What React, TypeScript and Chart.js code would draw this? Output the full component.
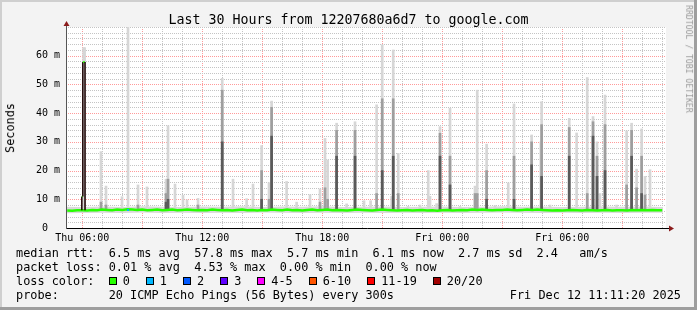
import React, { useEffect, useRef } from 'react';
import { Chart, registerables } from 'chart.js';

Chart.register(...registerables);

// ---------- axes ----------
const xMinHour = 5.189; // Thu 05:11:20
const xMaxHour = 35.189; // Fri 11:11:20
const xGridHours = [6, 7, 8, 9, 10, 11, 12, 13, 14, 15, 16, 17, 18, 19, 20, 21, 22, 23, 24, 25, 26, 27, 28, 29, 30, 31, 32, 33, 34, 35];
const xMajorHours = [6, 9, 12, 15, 18, 21, 24, 27, 30, 33];
const xLabelHours = [6, 12, 18, 24, 30];
const xTickLabels = ['Thu 06:00', 'Thu 12:00', 'Thu 18:00', 'Fri 00:00', 'Fri 06:00'];
const yMaxMs = 70;
const yGridMs = [2, 4, 6, 8, 10, 12, 14, 16, 18, 20, 22, 24, 26, 28, 30, 32, 34, 36, 38, 40, 42, 44, 46, 48, 50, 52, 54, 56, 58, 60, 62, 64, 66, 68, 70];
const yMajorMs = [10, 20, 30, 40, 50, 60];
const yLabelMs = [0, 10, 20, 30, 40, 50, 60];
const yTickLabels = ['0  ', '10 m', '20 m', '30 m', '40 m', '50 m', '60 m'];

// ---------- baseline smoke band (hourly) ----------
const bandHours = [5.19, 6, 7, 8, 9, 10, 11, 12, 13, 14, 15, 16, 17, 18, 19, 20, 21, 22, 23, 24, 25, 26, 27, 28, 29, 30, 31, 32, 33, 34, 35.04];
const bandLowMs = [5.1, 5.2, 5.3, 5.2, 5.4, 5.2, 5.3, 5.2, 5.3, 5.2, 5.4, 5.3, 5.2, 5.3, 5.2, 5.3, 5.2, 5.3, 5.2, 5.3, 5.2, 5.3, 5.4, 5.3, 5.2, 5.3, 5.2, 5.3, 5.2, 5.3, 5.3];
const bandHighMs = [7.4, 7.3, 7.5, 7.3, 7.6, 7.4, 7.3, 7.5, 7.4, 7.6, 7.3, 7.5, 7.4, 7.6, 7.3, 7.4, 7.5, 7.3, 7.4, 7.5, 7.3, 7.4, 7.6, 7.4, 7.5, 7.3, 7.4, 7.5, 7.4, 7.5, 7.3];

// ---------- median rtt (every 15 min from 05:15) ----------
const medianStartHour = 5.25;
const medianStepHour = 0.25;
const medianMs = [
  6.1, 6.0, 6.2,
  6.2, 6.1, 6.3, 6.2,
  6.4, 6.3, 6.2, 6.4,
  6.3, 6.5, 6.4, 6.3,
  6.4, 6.2, 6.3, 6.4,
  6.2, 6.3, 6.4, 6.2,
  6.3, 6.4, 6.3, 6.2,
  6.3, 6.2, 6.4, 6.3,
  6.2, 6.3, 6.1, 6.3,
  6.4, 6.2, 6.3, 6.1,
  6.3, 6.2, 6.4, 6.3,
  6.2, 6.4, 6.2, 6.3,
  6.1, 6.3, 6.4, 6.2,
  6.3, 6.4, 6.2, 6.3,
  6.2, 6.1, 6.3, 6.4,
  6.3, 6.2, 6.1, 6.3,
  6.4, 6.3, 6.2, 6.1,
  6.2, 6.3, 6.1, 6.2,
  6.3, 6.1, 6.2, 6.0,
  6.2, 6.3, 6.1, 6.2,
  6.3, 6.2, 6.4, 6.3,
  6.4, 6.3, 6.2, 6.3,
  6.3, 6.4, 6.3, 6.2,
  6.3, 6.4, 6.3, 6.4,
  6.3, 6.2, 6.1, 6.2,
  6.1, 6.2, 6.3, 6.2,
  6.1, 6.3, 6.2, 6.1,
  6.2, 6.3, 6.1, 6.2,
  6.2, 6.1, 6.3, 6.2,
  6.3, 6.2, 6.3, 6.2,
  6.2,
];
const medianSpikeHours = [5.98, 5.98, 6.03, 6.03, 6.14, 6.14];
const medianSpikeMs = [6.2, 11.0, 11.0, 57.8, 57.8, 6.2];
const lossOneHours = [8.29];
const lossOneMs = [6.3];

// ---------- smoke spikes ----------
const smokeBaseMs = 6.3;
const spikeHours = [6.07, 6.12, 6.94, 7.19, 7.99, 8.29, 8.79, 9.24, 10.19, 10.29, 10.64, 11.04, 11.24, 11.79, 13.0, 13.54, 14.22, 14.54, 14.97, 15.34, 15.47, 16.22, 16.72, 17.39, 17.89, 18.14, 18.27, 18.72, 19.22, 19.64, 20.09, 20.42, 20.72, 21.0, 21.47, 21.55, 21.8, 22.29, 22.89, 23.3, 23.39, 23.72, 23.89, 24.39, 24.89, 25.64, 25.75, 26.22, 26.64, 27.3, 27.59, 28.47, 28.93, 28.97, 29.39, 30.35, 30.72, 31.25, 31.54, 31.74, 31.89, 32.14, 32.72, 33.22, 33.47, 33.72, 33.97, 34.14, 34.39];
const spikeTopMs = [62.8, 62.8, 26.6, 14.6, 10.9, 70.0, 15.0, 14.3, 17.0, 35.6, 15.3, 11.4, 9.8, 10.3, 52.1, 17.0, 10.2, 15.3, 28.7, 15.8, 44.2, 16.2, 9.0, 11.6, 13.6, 31.2, 23.7, 36.5, 8.4, 37.0, 9.5, 9.5, 42.9, 63.8, 11.0, 62.0, 26.0, 7.5, 8.0, 20.0, 11.0, 8.5, 35.3, 41.7, 7.5, 14.6, 48.0, 29.2, 7.8, 15.7, 43.2, 32.4, 30.0, 44.0, 8.0, 38.2, 33.1, 52.4, 38.8, 30.0, 12.0, 46.3, 8.0, 33.8, 36.5, 20.5, 34.5, 18.0, 20.3];
const spikeMidMs = [0, 0, 9, 8, 0, 0, 8, 0, 12, 17, 0, 0, 0, 8, 48, 0, 0, 0, 20, 10, 42, 0, 0, 0, 9, 14, 10, 34, 0, 34, 0, 0, 12, 45, 0, 45, 12, 0, 0, 0, 0, 0, 33, 25, 0, 12, 12, 20, 0, 0, 25, 30, 0, 36, 0, 35, 0, 12, 37, 25, 0, 36, 0, 15, 34, 14, 25, 11.5, 0];
const spikeDarkMs = [0, 0, 0, 0, 0, 0, 0, 0, 9, 10, 0, 0, 0, 0, 30, 0, 0, 0, 10, 0, 32, 0, 0, 0, 0, 0, 0, 25, 0, 25, 0, 0, 0, 20, 0, 25, 0, 0, 0, 0, 0, 0, 25, 15, 0, 0, 0, 10, 0, 0, 10, 22, 0, 18, 0, 25, 0, 0, 32, 18, 0, 20, 0, 0, 25, 0, 12, 0, 0];

// ---------- legend ----------
const lossLabels = ['0', '1', '2', '3', '4-5', '6-10', '11-19', '20/20'];
const lossColors = ['#26ff00', '#00b8ff', '#0059ff', '#5e00ff', '#ff00ff', '#ff5500', '#ff0000', '#a10000'];

const MONO = "'DejaVu Sans Mono', monospace";
const GREEN = '#26ff00';
const MAJOR_GRID = '#ff9a9a';
const MINOR_GRID = '#c4c4c4';

const floatBars = (tops: number[]) =>
  spikeHours
    .map((h, i) => ({ x: h, y: [smokeBaseMs, tops[i]] }))
    .filter((d) => d.y[1] > 0);

const framePlugin = {
  id: 'rrdFrame',
  beforeDraw(chart: any) {
    const { ctx, chartArea: a } = chart;
    ctx.save();
    ctx.fillStyle = '#ffffff';
    ctx.fillRect(a.left, a.top, a.right - a.left, a.bottom - a.top);
    ctx.restore();
  },
  beforeDatasetsDraw(chart: any) {
    const { ctx, chartArea: a, scales } = chart;
    const xs = scales.x;
    const ys = scales.y;
    ctx.save();
    ctx.lineWidth = 1;
    ctx.setLineDash([1, 1]);
    xGridHours.forEach((h) => {
      const px = Math.round(xs.getPixelForValue(h)) + 0.5;
      ctx.strokeStyle = xMajorHours.includes(h) ? MAJOR_GRID : MINOR_GRID;
      ctx.beginPath();
      ctx.moveTo(px, a.bottom);
      ctx.lineTo(px, a.top);
      ctx.stroke();
    });
    yGridMs.forEach((v) => {
      const py = Math.round(ys.getPixelForValue(v)) + 0.5;
      ctx.strokeStyle = yMajorMs.includes(v) ? MAJOR_GRID : MINOR_GRID;
      ctx.beginPath();
      ctx.moveTo(a.left, py);
      ctx.lineTo(a.right, py);
      ctx.stroke();
    });
    ctx.restore();
  },
  afterDatasetsDraw(chart: any) {
    const { ctx, chartArea: a } = chart;
    const x0 = Math.round(a.left) + 0.5;
    const y0 = Math.round(a.bottom) + 0.5;
    ctx.save();
    ctx.lineWidth = 1;
    ctx.strokeStyle = '#555555';
    ctx.beginPath();
    ctx.moveTo(x0, y0);
    ctx.lineTo(x0, a.top - 1);
    ctx.stroke();
    ctx.strokeStyle = '#000000';
    ctx.beginPath();
    ctx.moveTo(x0, y0);
    ctx.lineTo(a.right + 3, y0);
    ctx.stroke();
    ctx.fillStyle = '#8b1c1c';
    ctx.beginPath();
    ctx.moveTo(a.right + 3, y0 - 3);
    ctx.lineTo(a.right + 8, y0);
    ctx.lineTo(a.right + 3, y0 + 3);
    ctx.closePath();
    ctx.fill();
    ctx.beginPath();
    ctx.moveTo(x0 - 3, a.top - 1);
    ctx.lineTo(x0, a.top - 6);
    ctx.lineTo(x0 + 3, a.top - 1);
    ctx.closePath();
    ctx.fill();
    ctx.restore();
  },
};

function App() {
  const canvasRef = useRef<HTMLCanvasElement | null>(null);

  useEffect(() => {
    const canvas = canvasRef.current;
    if (!canvas) return;

    const medianData = medianMs.map((v, i) => ({ x: medianStartHour + i * medianStepHour, y: v }));
    const spikeData = medianSpikeHours.map((h, i) => ({ x: h, y: medianSpikeMs[i] }));

    const chart = new Chart(canvas, {
      type: 'bar',
      data: {
        datasets: [
          {
            type: 'line',
            data: bandHours.map((h, i) => ({ x: h, y: bandLowMs[i] })),
            borderWidth: 0,
            pointRadius: 0,
            fill: false,
            order: 10,
          } as any,
          {
            type: 'line',
            data: bandHours.map((h, i) => ({ x: h, y: bandHighMs[i] })),
            borderWidth: 0,
            pointRadius: 0,
            fill: '-1',
            backgroundColor: '#d9d9d9',
            order: 9,
          } as any,
          {
            data: floatBars(spikeTopMs),
            backgroundColor: '#d6d6d6',
            barThickness: 2,
            grouped: false,
            borderWidth: 0,
            order: 6,
          } as any,
          {
            data: floatBars(spikeMidMs),
            backgroundColor: '#9e9e9e',
            barThickness: 2,
            grouped: false,
            borderWidth: 0,
            order: 5,
          } as any,
          {
            data: floatBars(spikeDarkMs),
            backgroundColor: '#5a5a5a',
            barThickness: 2,
            grouped: false,
            borderWidth: 0,
            order: 4,
          } as any,
          {
            type: 'line',
            data: medianData,
            borderColor: GREEN,
            borderWidth: 2.5,
            pointRadius: 0,
            fill: false,
            tension: 0,
            order: 2,
          } as any,
          {
            type: 'line',
            data: spikeData,
            borderColor: GREEN,
            borderWidth: 1.5,
            pointRadius: 0,
            fill: false,
            segment: {
              borderColor: (c: any) => (c.p0.parsed.x === c.p1.parsed.x ? '#1a0000' : GREEN),
            },
            order: 1,
          } as any,
          {
            type: 'line',
            data: lossOneHours.map((h, i) => ({ x: h, y: lossOneMs[i] })),
            showLine: false,
            pointStyle: 'rect',
            pointRadius: 1.5,
            pointBorderWidth: 0,
            pointBackgroundColor: lossColors[1],
            order: 0,
          } as any,
        ],
      },
      options: {
        responsive: false,
        animation: false,
        devicePixelRatio: 1,
        events: [],
        layout: { padding: { left: 0, top: 27, right: 31, bottom: 0 } },
        plugins: {
          legend: { display: false },
          title: { display: false },
          tooltip: { enabled: false },
        },
        scales: {
          x: {
            type: 'linear',
            min: xMinHour,
            max: xMaxHour,
            offset: false,
            afterBuildTicks: (s: any) => {
              s.ticks = xLabelHours.map((v) => ({ value: v }));
            },
            afterFit: (s: any) => {
              s.height = 82;
            },
            ticks: {
              autoSkip: false,
              maxRotation: 0,
              minRotation: 0,
              padding: 4,
              color: '#000',
              font: { family: MONO, size: 10 },
              callback: (v: any) => {
                const i = xLabelHours.indexOf(Number(v));
                return i >= 0 ? xTickLabels[i] : '';
              },
            },
            grid: { display: false, offset: false, drawTicks: false },
            border: { display: false },
          },
          y: {
            type: 'linear',
            min: 0,
            max: yMaxMs,
            afterBuildTicks: (s: any) => {
              s.ticks = yLabelMs.map((v) => ({ value: v }));
            },
            afterFit: (s: any) => {
              s.width = 66;
            },
            ticks: {
              autoSkip: false,
              padding: 6,
              color: '#000',
              font: { family: MONO, size: 10 },
              callback: (v: any) => {
                const i = yLabelMs.indexOf(Number(v));
                return i >= 0 ? yTickLabels[i] : '';
              },
            },
            grid: { display: false, drawTicks: false },
            border: { display: false },
          },
        },
      } as any,
      plugins: [framePlugin],
    });

    return () => chart.destroy();
  }, []);

  const lineStyle = (top: number): React.CSSProperties => ({
    position: 'absolute',
    left: 16,
    top,
    fontFamily: MONO,
    fontSize: '11.85px',
    lineHeight: '11.85px',
    whiteSpace: 'pre',
    color: '#000',
  });

  return (
    <div
      style={{
        position: 'fixed',
        left: 0,
        top: 0,
        width: 697,
        height: 310,
        background: '#f3f3f3',
        overflow: 'hidden',
      }}
    >
      <canvas ref={canvasRef} width={697} height={310} style={{ position: 'absolute', left: 0, top: 0, width: 697, height: 310 }} />
      <div
        style={{
          position: 'absolute',
          left: 0,
          top: 12.75,
          width: 697,
          textAlign: 'center',
          fontFamily: MONO,
          fontSize: '13.3px',
          lineHeight: '13.3px',
          whiteSpace: 'pre',
          color: '#000',
        }}
      >
        Last 30 Hours from 12207680a6d7 to google.com
      </div>
      <div
        style={{
          position: 'absolute',
          left: 10.7,
          top: 127.5,
          transform: 'translate(-50%, -50%) rotate(-90deg)',
          fontFamily: MONO,
          fontSize: '11.85px',
          lineHeight: '11.85px',
          whiteSpace: 'pre',
          color: '#000',
        }}
      >
        Seconds
      </div>
      <div
        style={{
          position: 'absolute',
          left: 688.5,
          top: 59,
          transform: 'translate(-50%, -50%) rotate(90deg)',
          fontFamily: MONO,
          fontSize: '8.15px',
          lineHeight: '8.15px',
          whiteSpace: 'pre',
          color: '#9a9a9a',
        }}
      >
        RRDTOOL / TOBI OETIKER
      </div>
      <div style={lineStyle(248.3)}>{'median rtt:  6.5 ms avg  57.8 ms max  5.7 ms min  6.1 ms now  2.7 ms sd  2.4   am/s'}</div>
      <div style={lineStyle(262.2)}>{'packet loss: 0.01 % avg  4.53 % max  0.00 % min  0.00 % now'}</div>
      <div style={lineStyle(276.2)}>
        {'loss color:  '}
        {lossLabels.map((l, i) => (
          <span key={l}>
            <span
              style={{
                display: 'inline-block',
                width: 6,
                height: 6,
                border: '1px solid #000',
                background: lossColors[i],
                marginRight: 6,
                verticalAlign: 'baseline',
              }}
            />
            <span style={{ marginRight: 16 }}>{l}</span>
          </span>
        ))}
      </div>
      <div style={lineStyle(290.1)}>{'probe:       20 ICMP Echo Pings (56 Bytes) every 300s'}</div>
      <div style={{ ...lineStyle(290.1), left: 0, width: 681, textAlign: 'right' }}>Fri Dec 12 11:11:20 2025</div>
      <div style={{ position: 'absolute', left: 0, top: 0, width: 697, height: 2, background: '#cfcfcf' }} />
      <div style={{ position: 'absolute', left: 0, top: 0, width: 2, height: 310, background: '#cfcfcf' }} />
      <div style={{ position: 'absolute', left: 0, top: 307, width: 697, height: 3, background: '#9e9e9e' }} />
      <div style={{ position: 'absolute', left: 694, top: 0, width: 3, height: 310, background: '#9e9e9e' }} />
    </div>
  );
}

export default App;
